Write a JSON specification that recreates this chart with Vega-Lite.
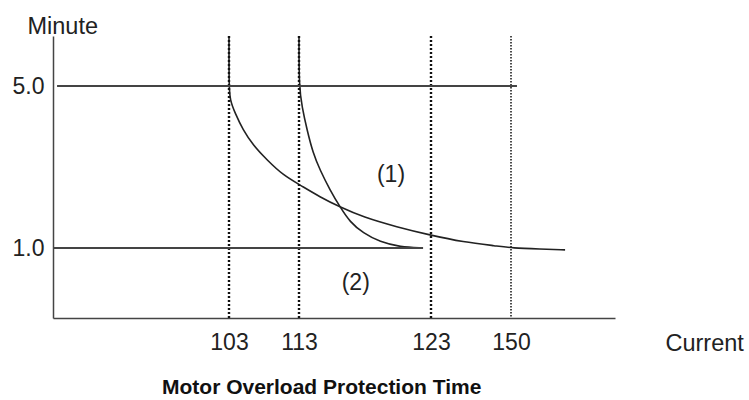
{
  "$schema": "https://vega.github.io/schema/vega-lite/v6.json",
  "autosize": {"type": "none"},
  "padding": {"left": 53, "top": 36, "right": 134, "bottom": 82},
  "width": 562,
  "height": 282,
  "background": "white",
  "config": {"view": {"stroke": null}, "font": "Liberation Sans"},
  "title": {"text": "Motor Overload Protection Time", "orient": "bottom", "anchor": "start", "frame": "group", "dx": 109, "offset": 22, "fontSize": 21, "fontWeight": "bold", "font": "Liberation Sans", "color": "#111"},
  "datasets": {
    "vlines": [
      {"x": 103, "kind": "heavy"},
      {"x": 113, "kind": "heavy"},
      {"x": 123, "kind": "heavy"},
      {"x": 150, "kind": "light"}
    ],
    "hlines": [
      {"x": 90.3, "x2": 151.15, "y": 5},
      {"x": 90, "x2": 122.4, "y": 1}
    ],
    "curves": [
      {"curve": "A", "ord": 0, "x": 103, "y": 6.2},
      {"curve": "A", "ord": 1, "x": 103, "y": 5.0},
      {"curve": "A", "ord": 2, "x": 103.14, "y": 4.654},
      {"curve": "A", "ord": 3, "x": 103.86, "y": 4.333},
      {"curve": "A", "ord": 4, "x": 105.0, "y": 3.914},
      {"curve": "A", "ord": 5, "x": 106.43, "y": 3.543},
      {"curve": "A", "ord": 6, "x": 108.43, "y": 3.173},
      {"curve": "A", "ord": 7, "x": 110.71, "y": 2.802},
      {"curve": "A", "ord": 8, "x": 113.08, "y": 2.556},
      {"curve": "A", "ord": 9, "x": 114.59, "y": 2.259},
      {"curve": "A", "ord": 10, "x": 116.11, "y": 2.012},
      {"curve": "A", "ord": 11, "x": 117.85, "y": 1.765},
      {"curve": "A", "ord": 12, "x": 120.42, "y": 1.519},
      {"curve": "A", "ord": 13, "x": 122.92, "y": 1.321},
      {"curve": "A", "ord": 14, "x": 133.8, "y": 1.148},
      {"curve": "A", "ord": 15, "x": 145.3, "y": 1.049},
      {"curve": "A", "ord": 16, "x": 150.19, "y": 1.0},
      {"curve": "A", "ord": 17, "x": 155.6, "y": 0.975},
      {"curve": "A", "ord": 18, "x": 160.4, "y": 0.955},
      {"curve": "B", "ord": 0, "x": 113, "y": 6.2},
      {"curve": "B", "ord": 1, "x": 113, "y": 5.0},
      {"curve": "B", "ord": 2, "x": 113.23, "y": 4.481},
      {"curve": "B", "ord": 3, "x": 113.61, "y": 3.914},
      {"curve": "B", "ord": 4, "x": 114.06, "y": 3.346},
      {"curve": "B", "ord": 5, "x": 114.59, "y": 2.926},
      {"curve": "B", "ord": 6, "x": 115.35, "y": 2.432},
      {"curve": "B", "ord": 7, "x": 116.11, "y": 2.012},
      {"curve": "B", "ord": 8, "x": 116.86, "y": 1.642},
      {"curve": "B", "ord": 9, "x": 117.85, "y": 1.37},
      {"curve": "B", "ord": 10, "x": 119.14, "y": 1.148},
      {"curve": "B", "ord": 11, "x": 120.65, "y": 1.025},
      {"curve": "B", "ord": 12, "x": 122.39, "y": 1.0}
    ],
    "labels": [
      {"x": 119.97, "y": 2.8, "label": "(1)"},
      {"x": 117.3, "y": 0.136, "label": "(2)"}
    ]
  },
  "layer": [
    {
      "data": {"name": "curves"},
      "mark": {"type": "line", "color": "#222", "strokeWidth": 1.6, "interpolate": "basis"},
      "encoding": {
        "x": {"field": "x", "type": "quantitative",
          "scale": {"domain": [90, 103, 113, 123, 150, 170], "range": [0, 176, 246, 378, 458, 562], "nice": false, "zero": false},
          "axis": {"values": [103, 113, 123, 150], "format": "d", "title": "Current", "grid": false, "ticks": false, "tickSize": 0,
            "domainColor": "#444", "domainWidth": 1.5, "labelFontSize": 23, "labelFont": "Liberation Sans", "labelColor": "#222",
            "labelPadding": 31, "labelBaseline": "alphabetic", "labelFlush": false, "labelOverlap": false,
            "titleFontSize": 23.5, "titleFont": "Liberation Sans", "titleFontWeight": "normal", "titleColor": "#222",
            "titleX": 612, "titleY": 32, "titleAlign": "left", "titleBaseline": "alphabetic",
            "encoding": {"labels": {"update": {
              "dx": {"signal": "datum.value === 113 ? 6 : datum.value === 150 ? 8 : datum.value === 103 ? -2 : 0"},
              "dy": {"signal": "datum.value === 113 ? -2 : 0"}
            }}}}},
        "y": {"field": "y", "type": "quantitative",
          "scale": {"domain": [-0.728, 6.235], "nice": false, "zero": false},
          "axis": {"values": [1, 5], "format": ".1f", "title": "Minute", "grid": false, "ticks": false, "tickSize": 0,
            "domainColor": "#444", "domainWidth": 1.5, "labelFontSize": 23, "labelFont": "Liberation Sans", "labelColor": "#222",
            "labelPadding": 9, "labelOverlap": false,
            "titleFontSize": 23.5, "titleFont": "Liberation Sans", "titleFontWeight": "normal", "titleColor": "#222",
            "titleAngle": 0, "titleX": -26, "titleY": -3, "titleAlign": "left", "titleBaseline": "alphabetic"}},
        "detail": {"field": "curve"},
        "order": {"field": "ord", "type": "quantitative"}
      }
    },
    {
      "data": {"name": "vlines"},
      "transform": [{"filter": "datum.kind === 'heavy'"}],
      "mark": {"type": "rule", "color": "#111", "strokeWidth": 2.4, "strokeDash": [2, 2]},
      "encoding": {
        "x": {"field": "x", "type": "quantitative"}
      }
    },
    {
      "data": {"name": "vlines"},
      "transform": [{"filter": "datum.kind === 'light'"}],
      "mark": {"type": "rule", "color": "#111", "strokeWidth": 1.5, "strokeDash": [1.5, 1.5]},
      "encoding": {
        "x": {"field": "x", "type": "quantitative"}
      }
    },
    {
      "data": {"name": "hlines"},
      "mark": {"type": "rule", "color": "#444", "strokeWidth": 1.8},
      "encoding": {
        "x": {"field": "x", "type": "quantitative"},
        "x2": {"field": "x2"},
        "y": {"field": "y", "type": "quantitative"}
      }
    },
    {
      "data": {"name": "labels"},
      "mark": {"type": "text", "fontSize": 23, "font": "Liberation Sans", "color": "#222", "baseline": "middle", "align": "center"},
      "encoding": {
        "x": {"field": "x", "type": "quantitative"},
        "y": {"field": "y", "type": "quantitative"},
        "text": {"field": "label"}
      }
    }
  ]
}
